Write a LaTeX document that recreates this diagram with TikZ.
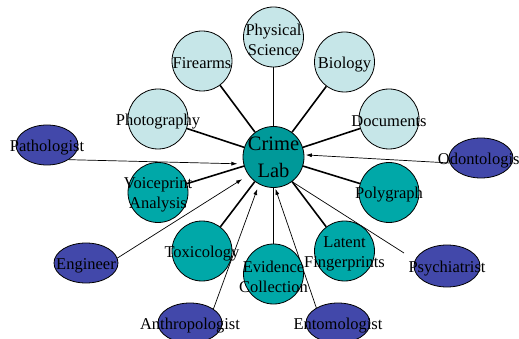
\documentclass[tikz,border=0pt]{standalone}
\usepackage{fontspec}
\setmainfont{Liberation Serif}
\usetikzlibrary{shapes.geometric,arrows.meta,backgrounds}
\definecolor{lightc}{RGB}{198,230,232}
\definecolor{tealc}{RGB}{0,168,168}
\definecolor{labc}{RGB}{0,153,153}
\definecolor{bluec}{RGB}{66,72,170}
\tikzset{
  disc/.style={circle, draw=black, line width=0.8pt, minimum size=60pt, inner sep=0pt},
  lightdisc/.style={disc, fill=lightc},
  tealdisc/.style={disc, fill=tealc},
  oval/.style={ellipse, draw=black, line width=0.8pt, fill=bluec, minimum width=64pt, minimum height=40pt, inner sep=0pt},
  txt/.style={font=\fontsize{16.5}{20}\selectfont, align=center, inner sep=0pt, text=black, yshift=-2.5pt},
  bigtxt/.style={font=\fontsize{20.5}{27}\selectfont, align=center, inner sep=0pt, text=black},
  spoke/.style={line width=1.6pt},
  link/.style={line width=0.7pt, -{Latex[length=6pt,width=4pt]}},
  plainlink/.style={line width=0.7pt},
}
\begin{document}
\begin{tikzpicture}[x=1pt,y=-1pt]
\useasboundingbox (0,0) rectangle (519,339);
\clip (0,0) rectangle (519,339);
% centre
\node[disc, fill=labc, minimum size=61pt, label={[bigtxt]center:{Crime\\Lab}}] (cl) at (273.5,157) {};
% light discs
\node[lightdisc, label={[txt]center:{Physical\\Science}}] (ps) at (273.5,37) {};
\node[lightdisc, label={[txt]center:Firearms}] (fi) at (202,61) {};
\node[lightdisc, label={[txt]center:Biology}] (bi) at (344.5,62) {};
\node[lightdisc, label={[txt]center:Photography}] (ph) at (158,119) {};
\node[lightdisc, label={[txt]center:Documents}] (do) at (389,119) {};
% teal discs
\node[tealdisc, label={[txt]center:{Voiceprint\\Analysis}}] (vo) at (158,192.5) {};
\node[tealdisc, label={[txt]center:Polygraph}] (po) at (389,192.5) {};
\node[tealdisc, label={[txt]center:Toxicology}] (to) at (202,251) {};
\node[tealdisc, label={[txt]center:{Latent\\Fingerprints}}] (lf) at (344.5,251) {};
\node[tealdisc, label={[txt]center:{Evidence\\Collection}}] (ec) at (273.5,274) {};
% ovals
\node[oval, minimum width=62pt, label={[txt]center:Pathologist}] (pa) at (47,145) {};
\node[oval, label={[txt]center:Odontologist}] (od) at (481,158) {};
\node[oval, label={[txt]center:Engineer}] (en) at (86,263) {};
\node[oval, minimum width=66pt, minimum height=42pt, label={[txt]center:Psychiatrist}] (py) at (447,266) {};
\node[oval, label={[txt]center:Anthropologist}] (an) at (190,323) {};
\node[oval, label={[txt]center:Entomologist}] (et) at (338,323) {};
\coordinate (pyend) at (404,253);
\begin{scope}[on background layer]
  \foreach \n in {ps,fi,bi,ph,do,vo,po,to,lf,ec} {\draw[spoke] (\n) -- (cl);}
  \draw[link, shorten >=6pt] (pa.-34) -- (cl.193);
  \draw[link, shorten >=1.5pt] (od.189) -- (cl.4);
  \draw[link, shorten >=7.5pt] (en.9) -- (cl.216);
  \draw[link, shorten >=5pt] (an.31) -- (cl.242);
  \draw[link, shorten >=1pt] (et.145) -- (cl.273);
  \draw[plainlink] (cl.-53) -- (pyend);
\end{scope}
\end{tikzpicture}
\end{document}
